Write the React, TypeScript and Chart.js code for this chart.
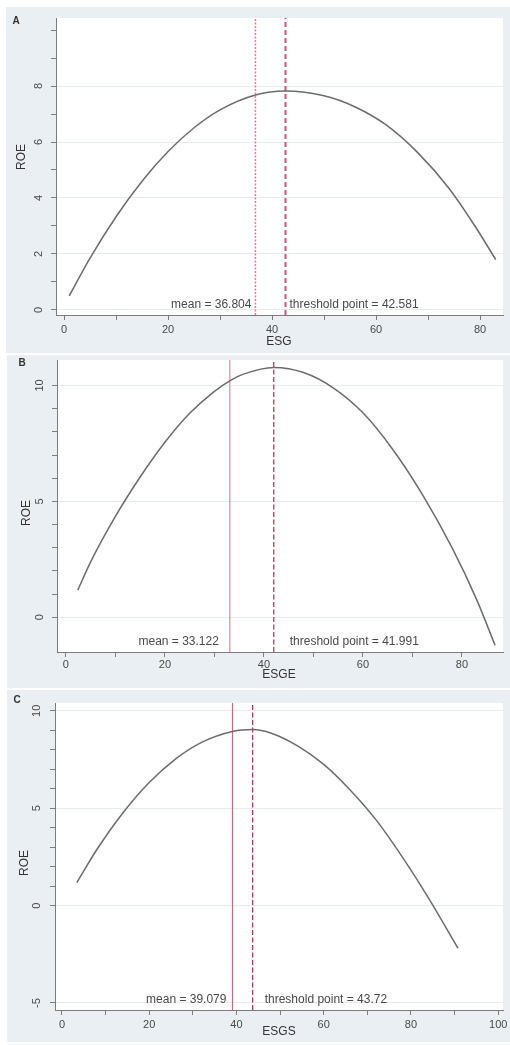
import React, { useEffect, useRef } from 'react';
import { Chart, registerables } from 'chart.js';

Chart.register(...registerables);

// ---------- Panel A : ESG ----------
const esgX = [1, 5, 10, 15, 20, 25, 30, 36.8, 42.58, 50, 56, 62, 68, 74, 79, 83];
const esgROE = [0.5, 1.85, 3.33, 4.6, 5.66, 6.51, 7.15, 7.68, 7.82, 7.65, 7.25, 6.6, 5.62, 4.35, 3.0, 1.8];
const esgMean = 36.804;
const esgThreshold = 42.581;
const esgXTicks = [0, 10, 20, 30, 40, 50, 60, 70, 80];
const esgXLabels = [0, 20, 40, 60, 80];
const esgYTicks = [0, 1, 2, 3, 4, 5, 6, 7, 8, 9, 10];
const esgYLabels = [0, 2, 4, 6, 8];

// ---------- Panel B : ESGE ----------
const esgeX = [2.4, 5, 10, 15, 20, 25, 30, 33.1, 36, 42, 48, 54, 60, 66, 72, 78, 83, 86.7];
const esgeROE = [1.17, 2.39, 4.35, 6.05, 7.55, 8.8, 9.75, 10.2, 10.5, 10.78, 10.56, 9.9, 8.82, 7.25, 5.3, 3.0, 0.75, -1.21];
const esgeMean = 33.122;
const esgeThreshold = 41.991;
const esgeXTicks = [0, 10, 20, 30, 40, 50, 60, 70, 80];
const esgeXLabels = [0, 20, 40, 60, 80];
const esgeYTicks = [0, 1, 2, 3, 4, 5, 6, 7, 8, 9, 10];
const esgeYLabels = [0, 5, 10];

// ---------- Panel C : ESGS ----------
const esgsX = [3.4, 8, 14, 20, 26, 32, 39.08, 43.72, 48, 54, 60, 66, 72, 78, 84, 90.8];
const esgsROE = [1.18, 2.88, 4.77, 6.32, 7.52, 8.38, 8.94, 9.04, 8.85, 8.2, 7.25, 5.95, 4.4, 2.5, 0.4, -2.2];
const esgsMean = 39.079;
const esgsThreshold = 43.72;
const esgsXTicks = [0, 10, 20, 30, 40, 50, 60, 70, 80, 90, 100];
const esgsXLabels = [0, 20, 40, 60, 80, 100];
const esgsYTicks = [-5, 0, 1, 2, 3, 4, 5, 6, 7, 8, 9, 10];
const esgsYLabels = [-5, 0, 5, 10];

const FONT = 'Arial, "Liberation Sans", Helvetica, sans-serif';
const BG = '#e9eff2';
const AXIS = '#7c7c7c';
const TXT = '#4a4a4a';

type Box = { left: number; top: number; width: number; height: number };
type Area = { left: number; top: number; right: number; bottom: number };
type LineStyle = { color: string; width: number; dash: number[] };

type PanelCfg = {
  letter: string;
  xTitle: string;
  xs: number[];
  ys: number[];
  mean: number;
  threshold: number;
  xTicks: number[];
  xLabels: number[];
  yTicks: number[];
  yLabels: number[];
  box: Box;
  area: Area;
  xRange: [number, number];
  yRange: [number, number];
  xLabelPad: number;
  yLabelPad: number;
  letterPos: [number, number];
  yTitlePos: [number, number];
  xTitlePos: [number, number];
  meanGap: number;
  thrGap: number;
  meanStyle: LineStyle;
  thrStyle: LineStyle;
};

function Panel({ cfg }: { cfg: PanelCfg }) {
  const ref = useRef<HTMLCanvasElement | null>(null);
  useEffect(() => {
    const canvas = ref.current;
    if (!canvas) return;
    const { box, area } = cfg;
    const [yMin, yMax] = cfg.yRange;

    const plotBg = {
      id: 'plotBg',
      beforeDraw(chart: any) {
        const { ctx, chartArea } = chart;
        ctx.save();
        ctx.fillStyle = '#ffffff';
        ctx.fillRect(chartArea.left, chartArea.top, chartArea.right - chartArea.left, chartArea.bottom - chartArea.top);
        ctx.restore();
      },
    };

    const texts = {
      id: 'texts',
      afterDraw(chart: any) {
        const { ctx, chartArea } = chart;
        const xs = chart.scales.x;
        ctx.save();
        ctx.fillStyle = TXT;
        ctx.font = `12px ${FONT}`;
        ctx.textBaseline = 'middle';
        const ty = chartArea.bottom - 10;
        ctx.textAlign = 'right';
        ctx.fillText(`mean = ${cfg.mean}`, xs.getPixelForValue(cfg.mean) - cfg.meanGap, ty);
        ctx.textAlign = 'left';
        ctx.fillText(`threshold point = ${cfg.threshold}`, xs.getPixelForValue(cfg.threshold) + cfg.thrGap, ty);

        // axis titles
        ctx.fillStyle = '#333';
        ctx.font = `12px ${FONT}`;
        ctx.textAlign = 'center';
        ctx.fillText(cfg.xTitle, cfg.xTitlePos[0] - box.left, cfg.xTitlePos[1] - box.top);
        ctx.save();
        ctx.translate(cfg.yTitlePos[0] - box.left, cfg.yTitlePos[1] - box.top);
        ctx.rotate(-Math.PI / 2);
        ctx.fillText('ROE', 0, 0);
        ctx.restore();

        // panel letter
        ctx.font = `bold 10px ${FONT}`;
        ctx.fillStyle = '#333';
        ctx.fillText(cfg.letter, cfg.letterPos[0] - box.left, cfg.letterPos[1] - box.top);
        ctx.restore();
      },
    };

    const chart = new Chart(canvas, {
      type: 'line',
      data: {
        datasets: [
          {
            data: cfg.xs.map((x, i) => ({ x, y: cfg.ys[i] })),
            borderColor: '#6c6c6c',
            borderWidth: 1.5,
            pointRadius: 0,
            fill: false,
            cubicInterpolationMode: 'monotone',
          },
          {
            data: [
              { x: cfg.mean, y: yMin },
              { x: cfg.mean, y: yMax },
            ],
            borderColor: cfg.meanStyle.color,
            borderWidth: cfg.meanStyle.width,
            borderDash: cfg.meanStyle.dash,
            pointRadius: 0,
            fill: false,
          },
          {
            data: [
              { x: cfg.threshold, y: yMin },
              { x: cfg.threshold, y: yMax },
            ],
            borderColor: cfg.thrStyle.color,
            borderWidth: cfg.thrStyle.width,
            borderDash: cfg.thrStyle.dash,
            pointRadius: 0,
            fill: false,
          },
        ],
      } as any,
      options: {
        animation: false,
        responsive: false,
        maintainAspectRatio: false,
        devicePixelRatio: 1,
        events: [],
        layout: {
          padding: {
            top: area.top - box.top,
            right: box.left + box.width - area.right,
            left: 0,
            bottom: 0,
          },
        },
        plugins: { legend: { display: false }, tooltip: { enabled: false } },
        scales: {
          x: {
            type: 'linear',
            min: cfg.xRange[0],
            max: cfg.xRange[1],
            afterBuildTicks: (s: any) => {
              s.ticks = cfg.xTicks.map((v) => ({ value: v }));
            },
            afterFit: (s: any) => {
              s.height = box.top + box.height - area.bottom;
              s.paddingLeft = 0;
              s.paddingRight = 0;
            },
            border: { color: AXIS, width: 1 },
            grid: { drawOnChartArea: false, tickLength: 5, tickColor: AXIS },
            ticks: {
              autoSkip: false,
              maxRotation: 0,
              minRotation: 0,
              padding: cfg.xLabelPad,
              color: TXT,
              font: { family: FONT, size: 11 },
              callback: (v: any) => (cfg.xLabels.includes(Number(v)) ? String(v) : ''),
            },
          },
          y: {
            type: 'linear',
            min: yMin,
            max: yMax,
            afterBuildTicks: (s: any) => {
              s.ticks = cfg.yTicks.map((v) => ({ value: v }));
            },
            afterFit: (s: any) => {
              s.width = area.left - box.left;
              s.paddingTop = 0;
              s.paddingBottom = 0;
            },
            border: { color: AXIS, width: 1 },
            grid: {
              color: (c: any) => (c.tick && cfg.yLabels.includes(c.tick.value) ? '#e6edf0' : 'rgba(0,0,0,0)'),
              lineWidth: 1,
              tickLength: 5,
              tickColor: AXIS,
            },
            ticks: {
              autoSkip: false,
              minRotation: 90,
              maxRotation: 90,
              crossAlign: 'center',
              padding: cfg.yLabelPad,
              color: TXT,
              font: { family: FONT, size: 11 },
              callback: (v: any) => (cfg.yLabels.includes(Number(v)) ? String(v) : ''),
            },
          },
        },
      } as any,
      plugins: [plotBg, texts],
    });
    return () => chart.destroy();
  }, [cfg]);

  return (
    <canvas
      ref={ref}
      width={cfg.box.width}
      height={cfg.box.height}
      style={{
        position: 'absolute',
        left: cfg.box.left,
        top: cfg.box.top,
        width: cfg.box.width,
        height: cfg.box.height,
        background: BG,
        display: 'block',
      }}
    />
  );
}

const panelA: PanelCfg = {
  letter: 'A',
  xTitle: 'ESG',
  xs: esgX,
  ys: esgROE,
  mean: esgMean,
  threshold: esgThreshold,
  xTicks: esgXTicks,
  xLabels: esgXLabels,
  yTicks: esgYTicks,
  yLabels: esgYLabels,
  box: { left: 6, top: 7, width: 504, height: 346 },
  area: { left: 56, top: 18, right: 503, bottom: 315 },
  xRange: [-1.54, 84.4],
  yRange: [-0.18, 10.43],
  xLabelPad: 3,
  yLabelPad: 9,
  letterPos: [16, 21],
  yTitlePos: [22, 157],
  xTitlePos: [279, 342],
  meanGap: 4,
  thrGap: 4,
  meanStyle: { color: '#d97f98', width: 1.5, dash: [2, 1.5] },
  thrStyle: { color: '#c7557c', width: 2, dash: [5, 3] },
};

const panelB: PanelCfg = {
  letter: 'B',
  xTitle: 'ESGE',
  xs: esgeX,
  ys: esgeROE,
  mean: esgeMean,
  threshold: esgeThreshold,
  xTicks: esgeXTicks,
  xLabels: esgeXLabels,
  yTicks: esgeYTicks,
  yLabels: esgeYLabels,
  box: { left: 7, top: 355, width: 503, height: 333 },
  area: { left: 57, top: 360, right: 503, bottom: 652 },
  xRange: [-1.8, 88.3],
  yRange: [-1.5, 11.1],
  xLabelPad: 1,
  yLabelPad: 6,
  letterPos: [22, 363],
  yTitlePos: [27, 513],
  xTitlePos: [279, 675],
  meanGap: 11,
  thrGap: 16,
  meanStyle: { color: '#e0708c', width: 1, dash: [] },
  thrStyle: { color: '#a3344f', width: 1.2, dash: [5, 2.5] },
};

const panelC: PanelCfg = {
  letter: 'C',
  xTitle: 'ESGS',
  xs: esgsX,
  ys: esgsROE,
  mean: esgsMean,
  threshold: esgsThreshold,
  xTicks: esgsXTicks,
  xLabels: esgsXLabels,
  yTicks: esgsYTicks,
  yLabels: esgsYLabels,
  box: { left: 7, top: 690, width: 503, height: 352 },
  area: { left: 55, top: 703, right: 503, bottom: 1010 },
  xRange: [-1.6, 101.1],
  yRange: [-5.36, 10.4],
  xLabelPad: 3,
  yLabelPad: 7,
  letterPos: [17, 700],
  yTitlePos: [25, 863],
  xTitlePos: [279, 1032],
  meanGap: 6,
  thrGap: 12,
  meanStyle: { color: '#d65a70', width: 1, dash: [] },
  thrStyle: { color: '#a02c45', width: 1.2, dash: [5, 2.5] },
};

export default function App() {
  return (
    <div style={{ position: 'absolute', left: 0, top: 0, width: 510, height: 1045, background: '#ffffff' }}>
      <Panel cfg={panelA} />
      <Panel cfg={panelB} />
      <Panel cfg={panelC} />
    </div>
  );
}
